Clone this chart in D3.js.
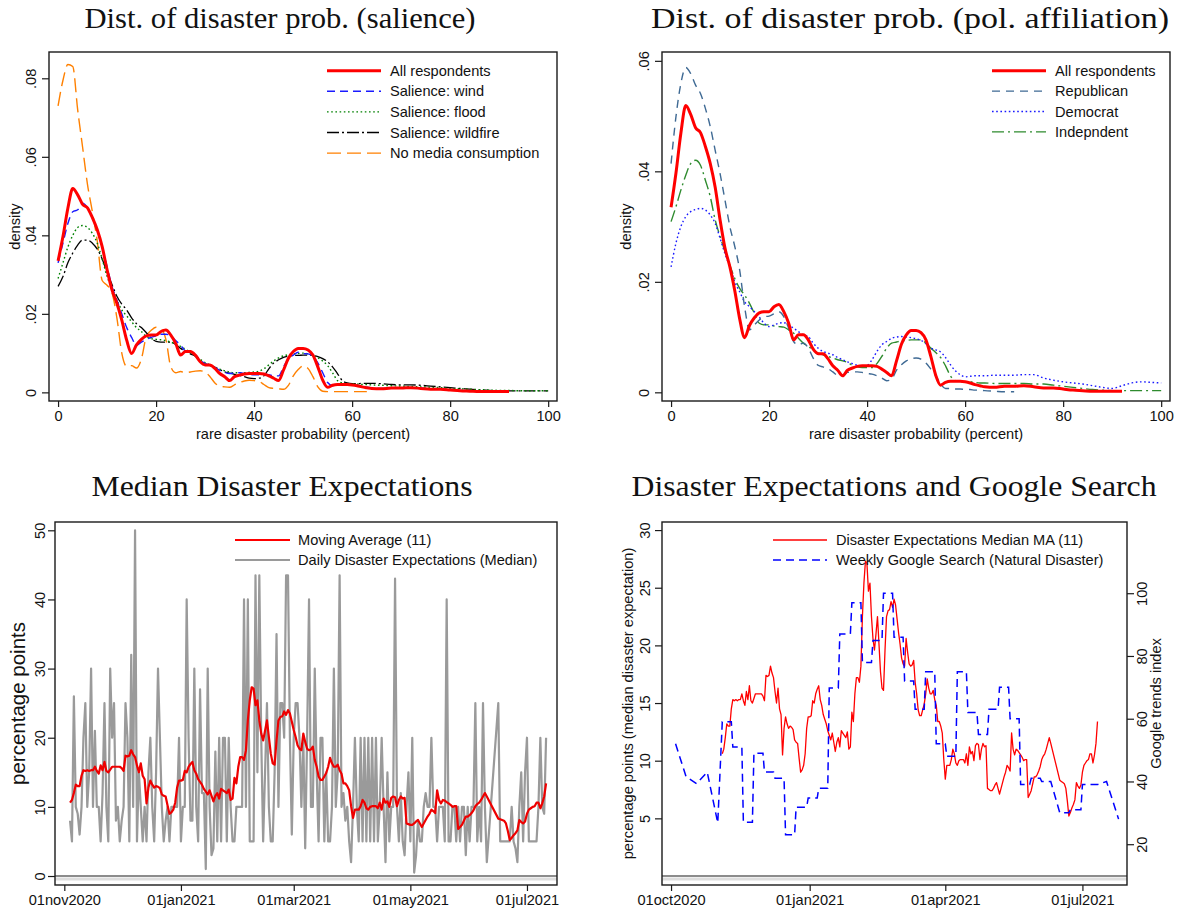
<!DOCTYPE html>
<html>
<head>
<meta charset="utf-8">
<script src="https://cdnjs.cloudflare.com/ajax/libs/d3/7.8.5/d3.min.js"></script>
<style>
  body { margin: 0; background: #fff; }
</style>
</head>
<body>
<svg id="chart" width="1179" height="914"></svg>
<script>
// ---------- data: density panels (values are density x 1000) ----------
const probGrid = [0,1,2,3,4,5,6,7,8,9,10,11,12,13,14,15,16,17,18,19,20,21,22,23,24,25,26,27,28,29,
  30,31,32,33,34,35,36,37,38,39,40,41,42,43,44,45,46,47,48,49,50,51,52,53,54,55,56,57,58,59,
  60,61,62,63,64,66,68,70,72,74,76,78,80,82,84,86,88,90,92,94,96,98,100];

const allResp = [33.5,39.7,46.9,51.9,50.3,47.9,47.0,44.5,41.4,37.1,
  31.2,26.1,22.7,18.4,13.3,9.9,12.1,13.5,14.4,14.6,
  14.6,15.5,15.9,14.6,12.5,9.5,10.4,10.4,9.5,7.8,
  7.0,7.0,6.1,4.8,4.0,3.0,4.0,4.4,4.7,4.8,
  4.8,4.8,4.7,4.2,3.6,3.0,5.7,8.7,10.4,11.2,
  11.2,10.8,9.5,6.5,3.1,1.3,1.8,2.0,2.0,2.0,
  1.9,1.7,1.4,1.2,1.0,
  0.9,1.1,1.1,1.2,1.0,0.8,0.8,0.6,0.4,0.3,0.2,0.2,0.2,0.2,null,null,null,null];

const salWind = [33.0,38.0,43.0,46.0,46.5,48.2,47.0,44.5,41.0,37.0,
  32.0,27.0,23.5,20.0,16.5,14.0,12.0,12.8,13.5,14.0,
  14.4,14.8,14.8,14.4,13.2,12.0,10.5,10.2,9.5,8.3,
  7.3,7.0,6.4,5.6,5.1,4.8,4.9,5.0,4.8,4.6,
  4.5,4.5,4.6,4.5,4.2,4.2,6.5,8.5,9.5,10.2,
  9.9,9.8,9.2,7.5,5.0,2.5,1.7,2.0,2.0,2.0,
  1.9,1.8,1.5,1.3,1.1,
  1.0,1.1,1.2,1.2,1.1,0.9,0.8,0.6,0.5,0.4,0.3,0.3,0.3,0.3,null,null,null,null];

const salFlood = [29.0,33.0,37.0,40.0,42.0,42.5,42.0,40.5,38.0,34.0,
  29.5,26.5,23.5,21.0,19.5,18.0,16.5,15.5,14.2,13.7,
  13.5,13.4,13.2,12.8,12.3,11.7,11.0,10.2,9.3,8.4,
  7.6,7.0,6.4,5.9,5.5,5.2,5.0,5.0,5.0,5.1,
  5.2,5.4,6.0,7.0,8.0,8.8,9.3,9.6,9.8,9.9,
  10.0,9.8,9.4,8.8,8.0,6.8,5.0,3.0,2.4,2.2,
  2.2,2.1,2.0,2.0,1.9,
  1.8,1.7,1.6,1.5,1.4,1.3,1.2,1.0,0.9,0.8,0.7,0.6,0.5,0.5,0.4,0.4,0.4,0.4];

const salWildfire = [27.0,29.5,33.0,35.5,37.5,38.8,38.8,38.0,36.5,34.0,
  30.5,27.5,24.5,22.5,21.0,19.0,17.5,16.5,15.2,13.8,
  13.0,12.8,12.8,12.8,12.2,11.2,10.5,9.8,9.2,8.0,
  7.2,6.8,6.4,5.8,5.2,4.9,4.6,4.3,4.0,3.6,
  3.5,3.6,4.2,6.0,7.5,8.3,8.9,9.2,9.4,9.4,
  9.5,9.5,9.4,9.1,8.6,7.8,6.5,4.8,3.0,2.4,
  2.2,2.2,2.3,2.3,2.3,
  2.2,2.0,1.9,1.9,1.8,1.6,1.4,1.2,1.0,0.8,0.6,0.5,0.4,0.4,0.4,0.4,0.4,0.4];

const noMedia = [73.0,79.5,83.5,83.0,72.0,62.5,53.0,46.0,38.5,28.5,
  27.3,25.4,19.0,10.0,6.6,6.8,6.2,8.5,14.2,15.8,
  16.6,16.2,13.5,6.5,5.0,5.3,5.0,5.2,5.4,5.5,
  5.2,4.0,2.4,1.6,1.4,1.3,1.9,2.5,2.9,3.1,
  3.0,2.8,2.0,1.2,1.0,0.9,0.8,1.8,4.2,5.8,
  6.7,6.1,4.0,1.4,0.3,0.2,0.2,0.2,0.2,0.2,
  0.2,0.2,0.2,0.2,null,
  null,null,null,null,null,null,null,null,null,null,null,null,null,null,null,null,null,null];

const republican = [41.4,49.9,55.9,58.8,57.7,55.6,54.1,51.4,48.1,43.8,
  39.6,34.8,30.0,26.4,22.1,15.5,11.3,12.2,13.1,13.7,
  13.8,14.2,14.6,13.7,11.6,9.2,8.6,8.9,8.0,6.2,
  4.9,4.6,4.3,3.7,3.1,3.1,3.6,3.7,3.7,3.6,
  3.4,3.3,3.0,2.6,2.1,2.4,4.0,5.0,5.7,6.1,
  6.2,6.0,5.3,4.2,3.0,1.5,0.7,0.7,0.6,0.6,
  0.5,0.5,0.4,0.4,0.3,
  0.2,0.1,0.1,null,null,null,null,null,null,null,null,null,null,null,null,null,null,null];

const democrat = [22.7,27.0,30.0,31.8,32.7,33.1,33.3,33.0,32.1,30.6,
  27.9,25.1,22.7,20.0,18.2,16.4,15.5,14.6,13.6,12.5,
  11.9,12.2,12.5,12.6,12.2,11.6,11.0,10.4,10.1,8.9,
  8.0,7.4,7.1,6.8,6.3,5.9,5.5,5.2,4.9,4.8,
  4.9,5.9,7.4,8.6,9.2,9.8,10.0,10.1,10.0,9.9,
  9.7,9.4,8.8,8.0,7.7,7.3,6.3,5.0,3.9,3.2,
  2.8,2.9,3.0,3.0,3.0,
  3.1,3.1,3.1,3.2,3.2,2.6,2.2,1.9,1.7,1.5,1.2,0.9,0.7,1.2,1.7,1.9,1.8,1.7];

const independent = [30.9,33.6,36.6,39.3,41.4,42.0,41.1,38.4,35.4,31.2,
  28.2,25.5,23.0,20.6,18.8,17.6,16.1,14.3,12.5,12.2,
  12.2,12.0,11.9,11.8,11.3,10.7,9.8,8.9,8.3,7.7,
  7.1,6.8,6.5,6.2,5.9,5.7,5.4,4.9,4.6,4.5,
  4.5,4.5,5.2,6.5,8.0,8.9,9.1,9.3,9.4,9.5,
  9.5,9.5,8.9,8.0,7.2,6.3,4.8,3.0,2.1,2.0,
  1.9,1.9,1.8,1.7,1.7,
  1.6,1.6,1.6,1.6,1.5,1.5,1.3,1.1,0.9,0.7,0.5,0.4,0.3,0.3,0.3,0.3,0.3,0.3];

const densityTicksX = [0, 20, 40, 60, 80, 100];
const densityTicksY1 = [0, 0.02, 0.04, 0.06, 0.08];
const densityTicksY2 = [0, 0.02, 0.04, 0.06];

// ---------- data: daily survey medians (one value per day from surveyStart) ----------
const surveyStart = "2020-11-04";
const dailyMedian = [8,5,26,10,9,6,10,20,25,10,
  15,30,10,21,10,10,5,12,25,10,
  5,30,20,25,8,10,5,8,10,25,
  20,5,32,10,50,5,15,10,5,10,
  5,15,20,10,5,15,30,20,10,5,
  8,10,5,10,10,10,10,20,5,10,
  10,40,20,8,8,30,10,5,27,12,
  12,1,30,10,3,4,18,5,20,5,
  20,20,5,20,10,5,5,10,10,10,
  10,40,10,40,5,5,5,43.5,15,43.5,
  20,5,15,25,10,5,5,15,35,10,
  25,25,20,43.5,43.5,20,6,20,25,25,
  20,10,20,4,20,40,10,10,30,15,
  5,20,20,5,15,5,5,10,30,10,
  15,43.5,10,12,8,10,5,2,10,20,
  10,5,20,5,20,5,20,5,20,5,
  20,5,10,20,10,2,15,5,10,10,
  43,10,5,12,5,3,10,15,5,20,
  0.5,3,8,5,5,10,12,10,10,20,
  10,10,5,10,10,10,5,40,5,5,
  10,10,5,10,5,10,10,3,10,5,
  10,10,25,5,10,5,25,10,2,null,
  null,null,null,null,25,5,5,5,5,5,
  5,10,5,4,2,10,15,5,15,20,
  5,5,5,5,5,10,20,10,9,20];

const movingAvg = [10.6,11.0,12.0,13.2,13.0,13.0,14.5,15.3,15.2,15.3,
  15.2,15.3,15.3,15.8,15.2,14.8,16.0,15.3,16.5,15.2,
  15.0,15.4,15.8,15.8,15.8,15.8,15.8,15.6,15.2,17.4,
  17.3,17.4,18.2,17.6,17.2,16.0,15.0,16.3,14.5,14.0,
  10.5,12.8,13.8,13.2,12.8,13.0,12.9,12.7,11.8,11.6,
  11.5,10.2,9.0,9.2,9.6,10.6,12.8,13.8,13.8,13.9,
  15.2,15.0,15.8,16.2,16.5,15.3,14.8,14.0,13.6,13.2,
  12.6,12.2,11.8,12.4,11.6,10.8,11.6,12.0,11.2,12.6,
  12.4,12.2,12.0,12.5,11.0,11.2,14.2,13.4,15.8,17.2,
  17.2,16.8,18.2,22.5,25.4,27.3,27.1,24.7,25.4,22.5,
  20.6,19.6,21.0,22.5,20.1,17.7,16.3,16.1,19.6,22.5,
  23.0,23.1,23.8,23.3,24.0,23.5,22.3,21.1,20.1,18.9,
  18.4,18.2,20.6,19.4,18.4,18.2,18.3,18.7,16.8,15.8,
  14.4,13.9,13.9,14.4,14.9,15.8,17.1,16.3,15.8,15.8,
  16.1,15.3,14.8,13.4,13.4,13.0,12.4,10.1,8.4,9.6,
  9.6,9.6,10.1,11.0,10.6,9.8,9.6,10.0,10.1,10.1,
  10.1,9.8,10.6,9.6,11.2,10.6,10.8,10.0,11.3,11.5,
  11.4,10.1,11.0,11.5,11.2,11.3,7.6,7.5,7.4,7.4,
  7.6,7.9,8.1,7.6,7.1,7.6,8.1,8.6,9.0,9.6,
  9.4,9.1,12.4,11.0,10.5,11.0,10.9,10.7,10.5,10.3,
  10.0,10.1,10.1,6.8,7.1,7.4,8.0,8.6,8.6,8.8,
  9.1,9.5,10.1,10.4,10.6,11.0,11.5,12.0,11.5,null,
  null,null,null,null,8.3,8.2,8.1,8.0,7.6,6.5,
  5.2,5.5,5.9,6.2,6.6,8.1,7.8,7.6,7.9,9.0,
  9.6,9.8,10.0,10.1,10.6,10.6,9.8,10.5,11.5,13.4];

// ---------- data: weekly Google trends index ----------
const googleDates = ["2020-10-04","2020-10-11","2020-10-18","2020-10-25","2020-11-01",
  "2020-11-04","2020-11-11","2020-11-18","2020-11-25","2020-12-02","2020-12-09","2020-12-16",
  "2020-12-23","2020-12-31","2021-01-07","2021-01-14","2021-01-21","2021-01-29","2021-02-05",
  "2021-02-12","2021-02-19","2021-02-26","2021-03-05","2021-03-12","2021-03-19","2021-03-26",
  "2021-04-02","2021-04-09","2021-04-16","2021-04-23","2021-04-30","2021-05-07","2021-05-14",
  "2021-05-21","2021-05-28","2021-06-04","2021-06-16","2021-06-23","2021-07-01","2021-07-17",
  "2021-07-25"];
const googleIndex = [52,41.5,39.3,43,26.8,
  59,51,27,49,43,41,23,
  31.8,34.7,37.8,69.8,87,97,77.9,
  84.9,100,86,72,63,75,52,
  48,75,62,55,63,70,60,
  39,41,40,30,31,39,40,
  28];

const dateTicks3 = ["2020-11-01","2021-01-01","2021-03-01","2021-05-01","2021-07-01"];
const dateTicks4 = ["2020-10-01","2021-01-01","2021-04-01","2021-07-01"];
const pctTicks3 = [0, 10, 20, 30, 40, 50];
const pctTicks4 = [5, 10, 15, 20, 25, 30];
const trendTicks = [20, 40, 60, 80, 100];

// ---------- layout ----------
const svg = d3.select("#chart");
const sans = '"Liberation Sans", Arial, Helvetica, sans-serif';
const serif = '"Liberation Serif", "Times New Roman", serif';
const ink = "#1a1a1a";
const fs = 14.6;

const P1 = {left: 49, right: 557, top: 52, bottom: 401};
const P2 = {left: 662, right: 1170, top: 52, bottom: 401};
const P3 = {left: 55, right: 557, top: 522, bottom: 885};
const P4 = {left: 662, right: 1127, top: 522, bottom: 885};

const parseDay = s => new Date(s + "T00:00:00Z");
const dateFmt = d => d3.utcFormat("%d%b%Y")(d).toLowerCase();
const densFmt = d => d === 0 ? "0" : d3.format(".2f")(d).replace(/^0/, "");

function frame(b) {
  svg.append("rect")
    .attr("x", b.left).attr("y", b.top)
    .attr("width", b.right - b.left).attr("height", b.bottom - b.top)
    .attr("fill", "none").attr("stroke", ink).attr("stroke-width", 1.4);
}

function styleAxis(g) {
  g.select(".domain").remove();
  g.selectAll(".tick line").attr("stroke", ink).attr("stroke-width", 1.2);
  g.selectAll(".tick text").attr("font-family", sans).attr("font-size", fs).attr("fill", "#111");
}

function bottomAxis(scale, b, ticks, fmt) {
  const g = svg.append("g").attr("transform", `translate(0,${b.bottom})`)
    .call(d3.axisBottom(scale).tickValues(ticks).tickFormat(fmt).tickSize(6).tickSizeOuter(0));
  styleAxis(g);
  g.selectAll(".tick text").attr("dy", null).attr("y", 19.8);
}

function sideAxis(scale, b, ticks, fmt, gap, right) {
  const x = right ? b.right : b.left;
  const ax = right ? d3.axisRight(scale) : d3.axisLeft(scale);
  const g = svg.append("g").attr("transform", `translate(${x},0)`)
    .call(ax.tickValues(ticks).tickFormat(fmt).tickSize(7).tickSizeOuter(0));
  styleAxis(g);
  g.selectAll(".tick text")
    .attr("x", null).attr("dy", null).attr("text-anchor", "middle")
    .attr("transform", `translate(${right ? gap : -gap},0) rotate(-90)`);
}

function vTitle(text, x, y, size) {
  svg.append("text").attr("transform", `translate(${x},${y}) rotate(-90)`)
    .attr("text-anchor", "middle").attr("font-family", sans).attr("font-size", size)
    .attr("fill", "#111").text(text);
}

function hTitle(text, x, y) {
  svg.append("text").attr("x", x).attr("y", y).attr("text-anchor", "middle")
    .attr("font-family", sans).attr("font-size", fs).attr("fill", "#111").text(text);
}

function panelTitle(text, x, y, len) {
  svg.append("text").attr("x", x).attr("y", y).attr("text-anchor", "middle")
    .attr("font-family", serif).attr("font-size", 29).attr("fill", "#111")
    .attr("textLength", len).attr("lengthAdjust", "spacingAndGlyphs").text(text);
}

function legend(items, x0, x1, xt, y0, step) {
  items.forEach((it, i) => {
    const y = y0 + i * step;
    svg.append("line").attr("x1", x0).attr("x2", x1).attr("y1", y).attr("y2", y)
      .attr("stroke", it.color).attr("stroke-width", it.width)
      .attr("stroke-dasharray", it.dash);
    svg.append("text").attr("x", xt).attr("y", y + 5).attr("font-family", sans)
      .attr("font-size", fs).attr("fill", "#111").text(it.label);
  });
}

// ---------- line styles ----------
const stAll = {color: "#ff0000", width: 3, dash: null, label: "All respondents"};
const panel1Series = [
  {values: noMedia, color: "#ff8000", width: 1.4, dash: "14,6", label: "No media consumption"},
  {values: salWildfire, color: "#000000", width: 1.3, dash: "12,3,2,3", label: "Salience: wildfire"},
  {values: salFlood, color: "#008000", width: 1.4, dash: "1.6,2.6", label: "Salience: flood"},
  {values: salWind, color: "#1a1aff", width: 1.4, dash: "8,5", label: "Salience: wind"},
  Object.assign({values: allResp}, stAll)
];
const panel2Series = [
  {values: independent, color: "#2e8b2e", width: 1.4, dash: "12,4,2,4", label: "Indepndent"},
  {values: democrat, color: "#1a1aff", width: 1.4, dash: "1.6,2.6", label: "Democrat"},
  {values: republican, color: "#3f6a94", width: 1.4, dash: "8,6", label: "Republican"},
  Object.assign({values: allResp}, stAll)
];

function densityPanel(b, series, yDom, yTicks, labelGap, titleX) {
  const x = d3.scaleLinear().domain([-1.85, 101.8]).range([b.left, b.right]);
  const y = d3.scaleLinear().domain(yDom).range([b.bottom, b.top]);
  const line = d3.line()
    .defined(d => d[1] != null)
    .x(d => x(d[0])).y(d => y(d[1] / 1000))
    .curve(d3.curveMonotoneX);
  series.forEach(s => {
    svg.append("path")
      .datum(probGrid.map((p, i) => [p, s.values[i]]))
      .attr("fill", "none").attr("stroke", s.color).attr("stroke-width", s.width)
      .attr("stroke-dasharray", s.dash).attr("stroke-linejoin", "round")
      .attr("d", line);
  });
  frame(b);
  bottomAxis(x, b, densityTicksX, d3.format("d"));
  sideAxis(y, b, yTicks, densFmt, labelGap, false);
  hTitle("rare disaster probability (percent)", (b.left + b.right) / 2, b.bottom + 37.5);
  vTitle("density", titleX, (b.top + b.bottom) / 2, fs);
}

// ---------- panel 1 & 2 ----------
densityPanel(P1, panel1Series, [-0.0022, 0.0867], densityTicksY1, 13, 20);
legend(panel1Series.slice().reverse(), 327, 381, 390, 70.7, 20.6);
panelTitle("Dist. of disaster prob. (salience)", 280, 28, 391);

densityPanel(P2, panel2Series, [-0.00157, 0.0616], densityTicksY2, 13.5, 631);
legend(panel2Series.slice().reverse(), 992, 1046, 1055, 70.7, 20.4);
panelTitle("Dist. of disaster prob. (pol. affiliation)", 910, 28, 518);

// ---------- survey series ----------
const start = parseDay(surveyStart);
const surveyDays = dailyMedian.map((v, i) => d3.utcDay.offset(start, i));
const dailyPts = surveyDays.map((d, i) => [d, dailyMedian[i]]).filter(d => d[1] != null);
const maPts = surveyDays.map((d, i) => [d, movingAvg[i]]).filter(d => d[1] != null);
const covered = new Set(maPts.map(d => +d[0]));

// ---------- panel 3 ----------
{
  const b = P3;
  const x = d3.scaleUtc()
    .domain([new Date(Date.UTC(2020, 9, 27, 3)), new Date(Date.UTC(2021, 6, 16, 17))])
    .range([b.left, b.right]);
  const y = d3.scaleLinear().domain([-1.3, 51.2]).range([b.bottom, b.top]);
  const line = d3.line().x(d => x(d[0])).y(d => y(d[1]));

  svg.append("line").attr("x1", b.left).attr("x2", b.right)
    .attr("y1", y(0) + 3).attr("y2", y(0) + 3).attr("stroke", "#dddddd").attr("stroke-width", 3);
  svg.append("line").attr("x1", b.left).attr("x2", b.right)
    .attr("y1", y(0)).attr("y2", y(0)).attr("stroke", ink).attr("stroke-width", 1.2);

  svg.append("path").datum(dailyPts).attr("fill", "none")
    .attr("stroke", "#9a9a9a").attr("stroke-width", 2.2).attr("stroke-linejoin", "round").attr("d", line);
  svg.append("path").datum(maPts).attr("fill", "none")
    .attr("stroke", "#ee0000").attr("stroke-width", 2.2).attr("stroke-linejoin", "round").attr("d", line);

  frame(b);
  bottomAxis(x, b, dateTicks3.map(parseDay), dateFmt);
  sideAxis(y, b, pctTicks3, d3.format("d"), 10, false);
  vTitle("percentage points", 25, (b.top + b.bottom) / 2, 20.5);
  legend([
    {color: "#ff0000", width: 2.2, dash: null, label: "Moving Average (11)"},
    {color: "#9a9a9a", width: 2.2, dash: null, label: "Daily Disaster Expectations (Median)"}
  ], 235, 290, 298, 540, 20);
  panelTitle("Median Disaster Expectations", 282, 496, 381);
}

// ---------- panel 4 ----------
{
  const b = P4;
  const x = d3.scaleUtc()
    .domain([new Date(Date.UTC(2020, 8, 25)), new Date(Date.UTC(2021, 6, 30, 14))])
    .range([b.left, b.right]);
  const yL = d3.scaleLinear().domain([-0.78, 30.7]).range([b.bottom, b.top]);
  const yR = d3.scaleLinear().domain([7.0, 122.7]).range([b.bottom, b.top]);

  // weekly values are held flat across days that the survey covers
  const gDates = googleDates.map(parseDay);
  const googlePts = [];
  gDates.forEach((d, i) => {
    googlePts.push([d, googleIndex[i]]);
    if (i < gDates.length - 1 && covered.has(+d)) {
      let end = d, next = d3.utcDay.offset(d, 1);
      while (+next <= +gDates[i + 1] - 864e5 && covered.has(+next)) {
        end = next; next = d3.utcDay.offset(next, 1);
      }
      if (+end > +d) googlePts.push([end, googleIndex[i]]);
    }
  });

  svg.append("line").attr("x1", b.left).attr("x2", b.right)
    .attr("y1", yL(0) + 3).attr("y2", yL(0) + 3).attr("stroke", "#dddddd").attr("stroke-width", 3);
  svg.append("line").attr("x1", b.left).attr("x2", b.right)
    .attr("y1", yL(0)).attr("y2", yL(0)).attr("stroke", ink).attr("stroke-width", 1.2);

  svg.append("path").datum(maPts).attr("fill", "none")
    .attr("stroke", "#ff0000").attr("stroke-width", 1.3).attr("stroke-linejoin", "round")
    .attr("d", d3.line().x(d => x(d[0])).y(d => yL(d[1])));
  svg.append("path").datum(googlePts).attr("fill", "none")
    .attr("stroke", "#0000ff").attr("stroke-width", 1.5).attr("stroke-dasharray", "8,5")
    .attr("d", d3.line().x(d => x(d[0])).y(d => yR(d[1])));

  frame(b);
  bottomAxis(x, b, dateTicks4.map(parseDay), dateFmt);
  sideAxis(yL, b, pctTicks4, d3.format("d"), 12, false);
  sideAxis(yR, b, trendTicks, d3.format("d"), 19.7, true);
  vTitle("percentage points (median disaster expectation)", 633, (b.top + b.bottom) / 2, fs);
  vTitle("Google trends index", 1161, (b.top + b.bottom) / 2, fs);
  legend([
    {color: "#ff0000", width: 1.3, dash: null, label: "Disaster Expectations Median MA (11)"},
    {color: "#0000ff", width: 1.5, dash: "8,5", label: "Weekly Google Search (Natural Disaster)"}
  ], 773, 827, 836, 540, 20);
  panelTitle("Disaster Expectations and Google Search", 894, 496, 525);
}
</script>
</body>
</html>
